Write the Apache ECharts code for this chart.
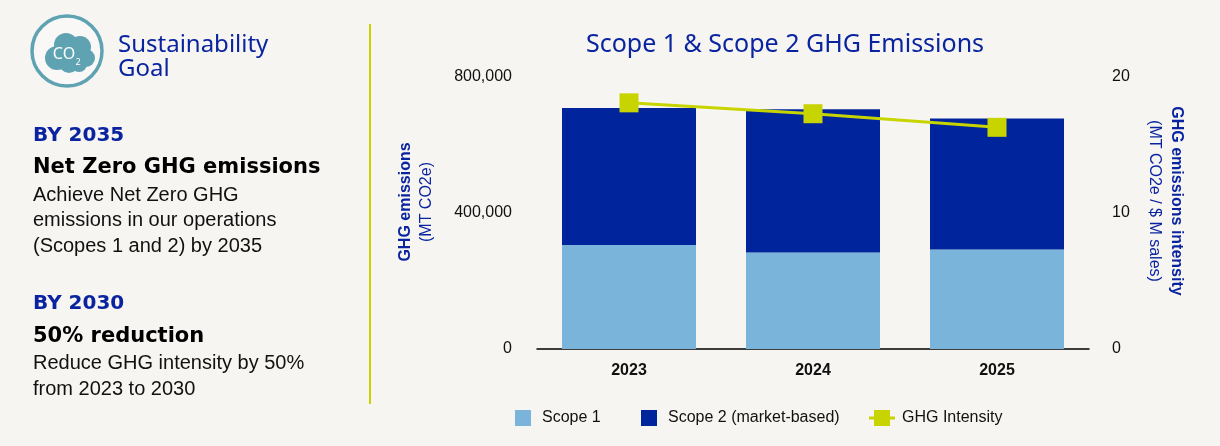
<!DOCTYPE html>
<html>
<head>
<meta charset="utf-8">
<script src="https://cdn.jsdelivr.net/npm/echarts@6/dist/echarts.min.js"></script>
<style>
html,body{margin:0;padding:0;background:#f7f5f2;}
#c{width:1220px;height:446px;}
</style>
</head>
<body>
<div id="c"></div>
<script>
const categories = ['2023', '2024', '2025'];
const scope1 = [306000, 284000, 293000];
const scope2 = [403000, 421000, 385000];
const intensity = [18.1, 17.3, 16.3];
const leftTicks = [0, 400000, 800000];
const rightTicks = [0, 10, 20];

const BLUE = '#0a24a0';
const C1 = '#7ab4db';
const C2 = '#00249c';
const C3 = '#c8d400';
const TEAL = '#5fa3b3';
const HEAD = '"Noto Sans", "DejaVu Sans", sans-serif';
const HEAVY = '"DejaVu Sans", "Noto Sans", sans-serif';
const BODY = '"Liberation Sans", Arial, sans-serif';

const chart = echarts.init(document.getElementById('c'));
const legendBase = {
  orient: 'horizontal', top: 410, padding: 0, itemWidth: 16, itemHeight: 16,
  textStyle: { fontFamily: BODY, fontSize: 16, color: '#111', padding: [0, 0, 0, 6] },
  selectedMode: false
};
chart.setOption({
  backgroundColor: '#f7f5f2',
  animation: false,
  title: {
    text: 'Scope 1 & Scope 2 GHG Emissions',
    left: 780, top: 27, textAlign: 'center',
    textStyle: { fontFamily: HEAD, fontSize: 25, fontWeight: 'normal', color: BLUE }
  },
  legend: [
    Object.assign({}, legendBase, { left: 515, data: [{ name: 'Scope 1', icon: 'rect' }] }),
    Object.assign({}, legendBase, { left: 641, data: [{ name: 'Scope 2 (market-based)', icon: 'rect' }] }),
    Object.assign({}, legendBase, { left: 869, itemWidth: 26,
      textStyle: { fontFamily: BODY, fontSize: 16, color: '#111', padding: [0, 0, 0, 2] },
      data: [{ name: 'GHG Intensity', icon: 'path://M0,6.5L26,6.5L26,9.5L0,9.5Z M5,0L21,0L21,16L5,16Z' }] })
  ],
  grid: { left: 537, right: 131, top: 77, bottom: 97, containLabel: false },
  xAxis: {
    type: 'category', data: categories,
    axisLine: { lineStyle: { color: '#000', width: 1.5 } },
    axisTick: { show: false },
    axisLabel: { fontFamily: BODY, fontSize: 16, fontWeight: 'bold', color: '#111', margin: 14 }
  },
  yAxis: [
    {
      type: 'value', min: leftTicks[0], max: leftTicks[2], interval: leftTicks[1] - leftTicks[0],
      axisLine: { show: false }, axisTick: { show: false }, splitLine: { show: false },
      axisLabel: {
        margin: 25, fontFamily: BODY, fontSize: 16, color: '#111',
        formatter: v => v.toLocaleString('en-US')
      }
    },
    {
      type: 'value', min: rightTicks[0], max: rightTicks[2], interval: rightTicks[1] - rightTicks[0],
      position: 'right',
      axisLine: { show: false }, axisTick: { show: false }, splitLine: { show: false },
      axisLabel: { margin: 23, fontFamily: BODY, fontSize: 16, color: '#111' }
    }
  ],
  series: [
    { name: 'Scope 1', type: 'bar', stack: 'e', data: scope1, barWidth: 134,
      itemStyle: { color: C1 } },
    { name: 'Scope 2 (market-based)', type: 'bar', stack: 'e', data: scope2, barWidth: 134,
      itemStyle: { color: C2 } },
    { name: 'GHG Intensity', type: 'line', yAxisIndex: 1, data: intensity,
      symbol: 'rect', symbolSize: 19,
      lineStyle: { color: C3, width: 3 }, itemStyle: { color: C3 } }
  ],
  graphic: [
    // divider
    { type: 'line', shape: { x1: 370, y1: 24, x2: 370, y2: 404 }, style: { stroke: C3, lineWidth: 2 } },
    // icon
    { type: 'circle', shape: { cx: 67, cy: 51, r: 35 }, style: { fill: '#f9f8f6', stroke: TEAL, lineWidth: 3.5 } },
    { type: 'group', children: [
      { type: 'circle', shape: { cx: 57, cy: 58, r: 12 }, style: { fill: TEAL } },
      { type: 'circle', shape: { cx: 66, cy: 45, r: 12 }, style: { fill: TEAL } },
      { type: 'circle', shape: { cx: 80, cy: 47, r: 11 }, style: { fill: TEAL } },
      { type: 'circle', shape: { cx: 86, cy: 58, r: 9 }, style: { fill: TEAL } },
      { type: 'circle', shape: { cx: 69, cy: 63, r: 10 }, style: { fill: TEAL } },
      { type: 'circle', shape: { cx: 79, cy: 64, r: 8 }, style: { fill: TEAL } },
      { type: 'text', x: 64, y: 54, style: { text: 'CO', fill: '#fff', font: '16px ' + HEAD, align: 'center', verticalAlign: 'middle' } },
      { type: 'text', x: 78, y: 62, style: { text: '2', fill: '#fff', font: '9px ' + HEAD, align: 'center', verticalAlign: 'middle' } }
    ] },
    { type: 'text', x: 118, y: 45, style: { text: 'Sustainability', fill: BLUE, font: '24px ' + HEAD, verticalAlign: 'middle' } },
    { type: 'text', x: 118, y: 69, style: { text: 'Goal', fill: BLUE, font: '24px ' + HEAD, verticalAlign: 'middle' } },
    // 2035 block
    { type: 'text', x: 33, y: 136, style: { text: 'BY 2035', fill: BLUE, font: 'bold 20px ' + HEAVY, verticalAlign: 'middle' } },
    { type: 'text', x: 33, y: 168, style: { text: 'Net Zero GHG emissions', fill: '#000', font: 'bold 21px ' + HEAVY, verticalAlign: 'middle' } },
    { type: 'text', x: 33, y: 195, style: { text: 'Achieve Net Zero GHG', fill: '#111', font: '20px ' + BODY, verticalAlign: 'middle' } },
    { type: 'text', x: 33, y: 220, style: { text: 'emissions in our operations', fill: '#111', font: '20px ' + BODY, verticalAlign: 'middle' } },
    { type: 'text', x: 33, y: 246, style: { text: '(Scopes 1 and 2) by 2035', fill: '#111', font: '20px ' + BODY, verticalAlign: 'middle' } },
    // 2030 block
    { type: 'text', x: 33, y: 304, style: { text: 'BY 2030', fill: BLUE, font: 'bold 20px ' + HEAVY, verticalAlign: 'middle' } },
    { type: 'text', x: 33, y: 337, style: { text: '50% reduction', fill: '#000', font: 'bold 21px ' + HEAVY, verticalAlign: 'middle' } },
    { type: 'text', x: 33, y: 363, style: { text: 'Reduce GHG intensity by 50%', fill: '#111', font: '20px ' + BODY, verticalAlign: 'middle' } },
    { type: 'text', x: 33, y: 389, style: { text: 'from 2023 to 2030', fill: '#111', font: '20px ' + BODY, verticalAlign: 'middle' } },
    // axis names
    { type: 'text', x: 406, y: 202, rotation: Math.PI / 2,
      style: { text: 'GHG emissions', fill: BLUE, font: 'bold 16px ' + BODY, align: 'center', verticalAlign: 'middle' } },
    { type: 'text', x: 427, y: 202, rotation: Math.PI / 2,
      style: { text: '(MT CO2e)', fill: BLUE, font: '16px ' + BODY, align: 'center', verticalAlign: 'middle' } },
    { type: 'text', x: 1176, y: 201, rotation: -Math.PI / 2,
      style: { text: 'GHG emissions intensity', fill: BLUE, font: 'bold 16px ' + BODY, align: 'center', verticalAlign: 'middle' } },
    { type: 'text', x: 1154, y: 201, rotation: -Math.PI / 2,
      style: { text: '(MT CO2e / $ M sales)', fill: BLUE, font: '16px ' + BODY, align: 'center', verticalAlign: 'middle' } }
  ]
});
</script>
</body>
</html>
